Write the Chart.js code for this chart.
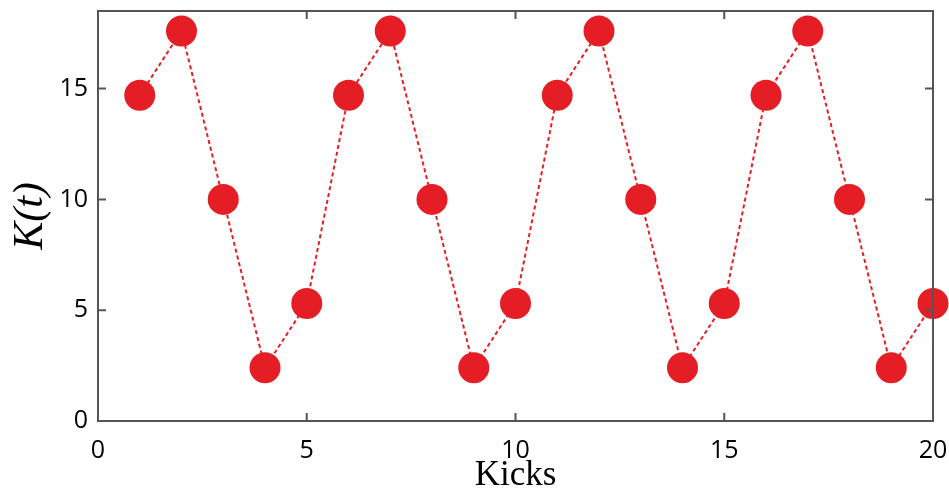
<!DOCTYPE html>
<html>
<head>
<meta charset="utf-8">
<script src="https://cdn.jsdelivr.net/npm/chart.js@4.4.1/dist/chart.umd.min.js"></script>
<style>
  html, body { margin: 0; padding: 0; background: #fff; }
  #wrap { width: 949px; height: 497px; }
</style>
</head>
<body>
<div id="wrap"><canvas id="canvas" width="949" height="497"></canvas></div>
<script>
var kicks = [1, 2, 3, 4, 5, 6, 7, 8, 9, 10, 11, 12, 13, 14, 15, 16, 17, 18, 19, 20];
var kValues = [14.7, 17.6, 10.0, 2.4, 5.3, 14.7, 17.6, 10.0, 2.4, 5.3,
               14.7, 17.6, 10.0, 2.4, 5.3, 14.7, 17.6, 10.0, 2.4, 5.3];
var xTicks = [0, 5, 10, 15, 20];
var yTicks = [0, 5, 10, 15];

var red = '#e41e24';
var axisGray = '#555555';
var tickFont = { family: "'Open Sans', 'Noto Sans', sans-serif", size: 25 };

// box round the plot with inward ticks on all four sides
var boxPlugin = {
    id: 'box',
    afterDraw: function (chart) {
        var ctx = chart.ctx;
        var a = chart.chartArea;
        var xs = chart.scales.x, ys = chart.scales.y;
        var len = 8;
        ctx.save();
        ctx.strokeStyle = axisGray;
        ctx.lineWidth = 2;
        ctx.strokeRect(a.left, a.top, a.right - a.left, a.bottom - a.top);
        ctx.beginPath();
        xTicks.forEach(function (v) {
            var px = xs.getPixelForValue(v);
            ctx.moveTo(px, a.bottom); ctx.lineTo(px, a.bottom - len);
            ctx.moveTo(px, a.top); ctx.lineTo(px, a.top + len);
        });
        yTicks.forEach(function (v) {
            var py = ys.getPixelForValue(v);
            ctx.moveTo(a.left, py); ctx.lineTo(a.left + len, py);
            ctx.moveTo(a.right, py); ctx.lineTo(a.right - len, py);
        });
        ctx.stroke();
        ctx.restore();
    }
};

var ctx = document.getElementById('canvas').getContext('2d');
var config = {
    type: 'line',
    data: {
        datasets: [{
            label: 'K(t)',
            data: kicks.map(function (k, i) { return { x: k, y: kValues[i] }; }),
            borderColor: red,
            borderWidth: 2,
            borderDash: [4, 3],
            pointRadius: 15.5,
            pointBackgroundColor: red,
            pointBorderWidth: 0,
            pointHoverRadius: 15.5,
            fill: false,
            tension: 0,
            clip: false
        }]
    },
    options: {
        responsive: false,
        animation: false,
        events: [],
        layout: { autoPadding: false, padding: { top: 11, right: 16, left: 0, bottom: 0 } },
        plugins: { legend: { display: false }, tooltip: { enabled: false } },
        scales: {
            x: {
                type: 'linear',
                min: 0,
                max: 20,
                afterBuildTicks: function (s) {
                    s.ticks = xTicks.map(function (v) { return { value: v }; });
                },
                afterFit: function (s) {
                    s.height = 76;
                    s.paddingLeft = 0; s.paddingRight = 0;
                },
                grid: { display: false, drawTicks: false },
                border: { display: false },
                ticks: { color: '#000', font: tickFont, padding: 15, maxRotation: 0 },
                title: {
                    display: true,
                    text: 'Kicks',
                    color: '#000',
                    font: { family: "'Liberation Serif', 'DejaVu Serif', serif", size: 35 },
                    padding: { top: 6, bottom: 0 }
                }
            },
            y: {
                min: 0,
                max: 18.5,
                afterBuildTicks: function (s) {
                    s.ticks = yTicks.map(function (v) { return { value: v }; });
                },
                afterFit: function (s) {
                    s.width = 98;
                    s.paddingTop = 0; s.paddingBottom = 0;
                },
                grid: { display: false, drawTicks: false },
                border: { display: false },
                ticks: { color: '#000', font: tickFont, padding: 10 },
                title: {
                    display: true,
                    text: 'K(t)',
                    color: '#000',
                    font: { family: "'Liberation Serif', 'DejaVu Serif', serif", size: 42, style: 'italic' },
                    padding: { top: 6, bottom: 0 }
                }
            }
        }
    },
    plugins: [boxPlugin]
};

var chart = new Chart(ctx, config);
</script>
</body>
</html>
